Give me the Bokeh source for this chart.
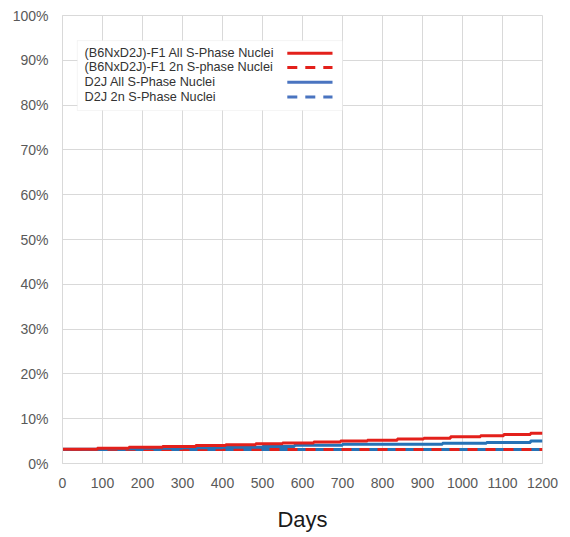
from bokeh.plotting import figure
from bokeh.models import (Range1d, FixedTicker, NumeralTickFormatter, BoxAnnotation,
                          Label, Arrow)
from bokeh.embed import file_html
from bokeh.resources import INLINE

# ---- data (days, percent) ----
f1_all_days = [0, 87, 166, 250, 333, 408, 483, 550, 628, 695, 762, 837, 903, 970, 1045, 1103, 1170, 1200]
f1_all_pct = [3.2, 3.4, 3.6, 3.8, 4.0, 4.2, 4.4, 4.6, 4.8, 5.0, 5.2, 5.45, 5.65, 5.95, 6.2, 6.45, 6.75, 6.75]

d2j_all_days = [0, 100, 200, 300, 400, 500, 580, 700, 950, 1060, 1170, 1200]
d2j_all_pct = [3.2, 3.3, 3.4, 3.5, 3.6, 3.8, 4.1, 4.3, 4.5, 4.7, 5.0, 5.0]

f1_2n_days = [0, 1200]
f1_2n_pct = [3.15, 3.15]

d2j_2n_days = [0, 1200]
d2j_2n_pct = [3.15, 3.15]

x_ticks = [0, 100, 200, 300, 400, 500, 600, 700, 800, 900, 1000, 1100, 1200]
y_ticks = [0, 10, 20, 30, 40, 50, 60, 70, 80, 90, 100]

legend_labels = ["(B6NxD2J)-F1 All S-Phase Nuclei",
                 "(B6NxD2J)-F1 2n S-phase Nuclei",
                 "D2J All S-Phase Nuclei",
                 "D2J 2n S-Phase Nuclei"]

RED = "#E3201B"
BLUE = "#2572B6"
BLUE_L = "#4A74C0"
GRID = "#d9d9d9"
TXT = "#595959"
FONT = "Liberation Sans"

def frac(v):
    return [x / 100.0 for x in v]

p = figure(width=570, height=537, output_backend="svg", toolbar_location=None,
           x_range=Range1d(0, 1200), y_range=Range1d(0, 1),
           min_border_left=62, min_border_right=28, min_border_top=15, min_border_bottom=74)
p.outline_line_color = GRID
p.background_fill_color = "white"
p.border_fill_color = "white"

p.xaxis.ticker = FixedTicker(ticks=x_ticks)
p.yaxis.ticker = FixedTicker(ticks=[t / 100.0 for t in y_ticks])
p.yaxis.formatter = NumeralTickFormatter(format="0%")
for ax in (p.xaxis, p.yaxis):
    ax.axis_line_color = GRID
    ax.major_tick_line_color = None
    ax.minor_tick_line_color = None
    ax.major_label_text_font = FONT
    ax.major_label_text_font_size = "14px"
    ax.major_label_text_color = TXT
p.yaxis.major_label_standoff = 8
p.xaxis.major_label_standoff = 8
p.xaxis.axis_label = "Days"
p.xaxis.axis_label_text_font = FONT
p.xaxis.axis_label_text_font_size = "22px"
p.xaxis.axis_label_text_font_style = "normal"
p.xaxis.axis_label_text_color = "#1a1a1a"
p.xaxis.axis_label_standoff = 16
p.grid.grid_line_color = GRID
p.grid.grid_line_width = 1

# lines
p.line(d2j_2n_days, frac(d2j_2n_pct), color=BLUE, line_width=3, line_dash="10 8")
p.line(f1_2n_days, frac(f1_2n_pct), color=RED, line_width=3, line_dash="10 8", line_dash_offset=9)
p.step(d2j_all_days, frac(d2j_all_pct), mode="after", color=BLUE, line_width=3)
p.step(f1_all_days, frac(f1_all_pct), mode="after", color=RED, line_width=3)

# custom legend (text on left, sample on right)
box = BoxAnnotation(left=37, right=700, bottom=0.788, top=0.944,
                    fill_color="white", fill_alpha=1.0, line_color=GRID, line_width=1)
p.add_layout(box)
rows_y = [0.916, 0.884, 0.851, 0.818]
styles = [(RED, "solid"), (RED, "10 8"), (BLUE_L, "solid"), (BLUE_L, "10 8")]
for lab, yy, (col, dash) in zip(legend_labels, rows_y, styles):
    p.add_layout(Label(x=55, y=yy, text=lab, text_font=FONT, text_font_size="12.7px",
                       text_color="#333333", text_baseline="middle"))
    p.add_layout(Arrow(end=None, x_start=562, y_start=yy, x_end=675, y_end=yy,
                       line_color=col, line_width=3, line_dash=dash))

open("out.html", "w").write(file_html(p, INLINE))
